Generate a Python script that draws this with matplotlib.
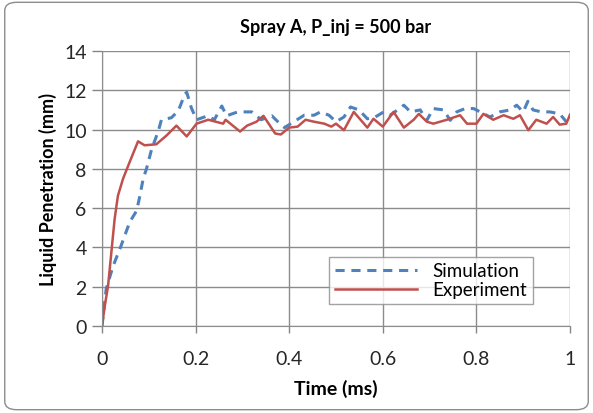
import matplotlib.pyplot as plt
from matplotlib.patches import FancyBboxPatch

# Simulation (blue dashed)
sim_t = [0.0, 0.009, 0.024, 0.041, 0.059, 0.074, 0.081, 0.088, 0.095, 0.106, 0.12,
         0.127, 0.148, 0.163, 0.177, 0.181, 0.191, 0.202, 0.226, 0.24, 0.256,
         0.266, 0.29, 0.32, 0.34, 0.363, 0.38, 0.39, 0.41, 0.432, 0.453, 0.467,
         0.485, 0.5, 0.517, 0.531, 0.549, 0.567, 0.584, 0.602, 0.616, 0.645,
         0.659, 0.68, 0.694, 0.708, 0.73, 0.744, 0.758, 0.776, 0.794, 0.808,
         0.829, 0.85, 0.872, 0.886, 0.9, 0.91, 0.921, 0.939, 0.957, 0.978, 0.992]
sim_y = [0.0, 1.9, 3.07, 4.1, 5.28, 5.87, 6.63, 7.5, 8.0, 9.0, 9.9,
         10.5, 10.6, 10.95, 11.8, 11.9, 11.1, 10.5, 10.7, 10.5, 11.2,
         10.7, 10.9, 10.9, 10.5, 10.7, 10.3, 10.1, 10.4, 10.73, 10.73, 10.9,
         10.73, 10.4, 10.64, 11.15, 11.0, 10.55, 10.64, 10.9, 10.73, 11.24,
         10.9, 11.0, 10.47, 11.07, 11.0, 10.47, 10.9, 11.07, 11.07, 10.9,
         10.64, 10.9, 11.0, 11.24, 10.9, 11.44, 11.0, 10.9, 10.9, 10.8, 10.4]

# Experiment (red solid)
exp_t = [0.0, 0.006, 0.013, 0.02, 0.027, 0.034, 0.045, 0.06, 0.077, 0.091, 0.116,
         0.138, 0.159, 0.181, 0.202, 0.227, 0.259, 0.264, 0.295, 0.31, 0.33,
         0.345, 0.37, 0.382, 0.40, 0.418, 0.435, 0.453, 0.475, 0.49, 0.50,
         0.517, 0.538, 0.567, 0.58, 0.6, 0.623, 0.645, 0.666, 0.677, 0.694,
         0.708, 0.737, 0.765, 0.78, 0.8, 0.815, 0.836, 0.858, 0.879, 0.893,
         0.911, 0.928, 0.95, 0.964, 0.978, 0.992, 1.0]
exp_y = [0.0, 1.03, 2.05, 3.75, 5.45, 6.63, 7.5, 8.4, 9.4, 9.2, 9.25,
         9.7, 10.2, 9.65, 10.3, 10.5, 10.3, 10.5, 9.9, 10.2, 10.4,
         10.7, 9.8, 9.75, 10.1, 10.15, 10.5, 10.4, 10.3, 10.15, 10.3,
         9.97, 10.9, 10.1, 10.55, 10.15, 10.9, 10.1, 10.5, 10.8, 10.4,
         10.3, 10.5, 10.73, 10.3, 10.3, 10.8, 10.5, 10.73, 10.55, 10.73,
         9.97, 10.5, 10.3, 10.64, 10.25, 10.3, 10.76]

x_ticks = [0, 0.2, 0.4, 0.6, 0.8, 1]
x_labels = ["0", "0.2", "0.4", "0.6", "0.8", "1"]
y_ticks = [0, 2, 4, 6, 8, 10, 12, 14]

plt.rcParams['font.family'] = ['Lato', 'DejaVu Sans']

fig = plt.figure(figsize=(5.93, 4.14), dpi=100)
ax = fig.add_axes([102 / 593, 1 - 327 / 414, 468 / 593, 275 / 414])

# rounded chart border
fig.patches.append(FancyBboxPatch((0.008, 0.008), 0.984, 0.984,
                                  boxstyle="round,pad=0,rounding_size=0.02",
                                  transform=fig.transFigure, fill=False,
                                  edgecolor='#8c8c8c', linewidth=1.0))

ax.plot(sim_t, sim_y, color='#4F81BD', linestyle=(0, (3, 2.2)), linewidth=2.2,
        label='Simulation')
ax.plot(exp_t, exp_y, color='#C0504D', linewidth=1.8, label='Experiment')

ax.set_xlim(0, 1)
ax.set_ylim(0, 14)
ax.set_xticks(x_ticks)
ax.set_xticklabels(x_labels)
ax.set_yticks(y_ticks)
ax.tick_params(labelsize=14, color='#868686', width=1, labelcolor='#262626')
ax.tick_params(axis='y', length=7, pad=4)
ax.tick_params(axis='x', length=5, pad=12)
ax.grid(True, color='#8c8c8c', linewidth=1.0)
ax.set_axisbelow(True)
for side in ['left', 'bottom', 'top', 'right']:
    ax.spines[side].set_color('#8c8c8c')
ax.spines['top'].set_visible(False)
ax.spines['right'].set_visible(False)

ax.set_title("Spray A, P_inj = 500 bar", fontsize=13, fontweight='bold', pad=14)
ax.set_xlabel("Time (ms)", fontsize=14, fontweight='bold', labelpad=9)
ax.set_ylabel("Liquid Penetration (mm)", fontsize=13, fontweight='bold', labelpad=5)

leg = ax.legend(loc='lower right', bbox_to_anchor=(0.92, 0.08), fontsize=13.5,
                frameon=True, fancybox=False, handlelength=4.4,
                borderpad=0.3, labelspacing=0.1, handletextpad=0.8,
                borderaxespad=0.0)
leg.get_frame().set_edgecolor('#8c8c8c')
leg.get_frame().set_linewidth(1.0)

fig.savefig("out.png", dpi=100)
